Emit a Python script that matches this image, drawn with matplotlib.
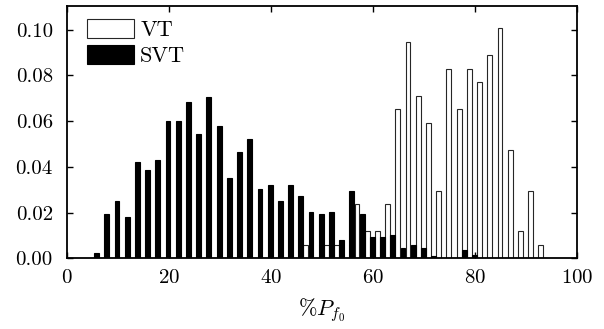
import numpy as np
import matplotlib
matplotlib.use('Agg')
import matplotlib.pyplot as plt

plt.rcParams['font.family'] = 'cmr10'
plt.rcParams['mathtext.fontset'] = 'cm'
plt.rcParams['axes.formatter.use_mathtext'] = True
plt.rcParams['font.size'] = 15

# histogram bin centres (%P_f0) and normalised frequencies
centers = np.arange(5.35, 95, 2)
svt = [0.0023, 0.0194, 0.0250, 0.0181, 0.0419, 0.0384, 0.0429, 0.0602, 0.0602,
       0.0682, 0.0545, 0.0704, 0.0578, 0.0353, 0.0466, 0.0523, 0.0305, 0.0320,
       0.0250, 0.0320, 0.0272, 0.0204, 0.0194, 0.0204, 0.0079, 0.0296, 0.0194,
       0.0091, 0.0091, 0.0104, 0.0045, 0.0057, 0.0045, 0.0012, 0.0, 0.0,
       0.0035, 0.0015, 0.0, 0.0, 0.0, 0.0, 0.0, 0.0, 0.0]
vt = [0.0] * 21 + [0.0059, 0.0, 0.0059, 0.0059, 0.0, 0.0237, 0.0118, 0.0118,
                   0.0237, 0.0651, 0.0947, 0.0710, 0.0592, 0.0296, 0.0828,
                   0.0651, 0.0828, 0.0769, 0.0888, 0.1006, 0.0473, 0.0118,
                   0.0296, 0.0059]
xticks = [0, 20, 40, 60, 80, 100]
yticks = [0.00, 0.02, 0.04, 0.06, 0.08, 0.10]

fig = plt.figure(figsize=(6.04, 3.29), dpi=100)
ax = fig.add_axes([0.1104, 0.2149, 0.8454, 0.7669])

w = 0.95
ax.bar(centers - 0.5, vt, width=w, color='white', edgecolor='0.15', linewidth=0.8, label='VT')
ax.bar(centers + 0.5, svt, width=w, color='black', edgecolor='black', linewidth=0.8, label='SVT')

ax.set_xlim(0, 100)
ax.set_ylim(0, 0.1103)
ax.set_xticks(xticks)
ax.set_yticks(yticks)
ax.set_yticklabels(['%.2f' % t for t in yticks])
ax.tick_params(direction='in', top=True, right=True, length=4, width=1)
ax.tick_params(axis='x', pad=8)
ax.tick_params(axis='y', pad=10)
for s in ax.spines.values():
    s.set_linewidth(1.3)

ax.set_xlabel(r'$\%P_{f_0}$', fontsize=16, labelpad=6)

ax.legend(loc='upper left', bbox_to_anchor=(0.02, 0.99), frameon=False,
          fontsize=16, handlelength=2.1, handleheight=0.95, labelspacing=0.22,
          handletextpad=0.3, borderaxespad=0.3, borderpad=0.15)

fig.savefig('out.png', dpi=100)
